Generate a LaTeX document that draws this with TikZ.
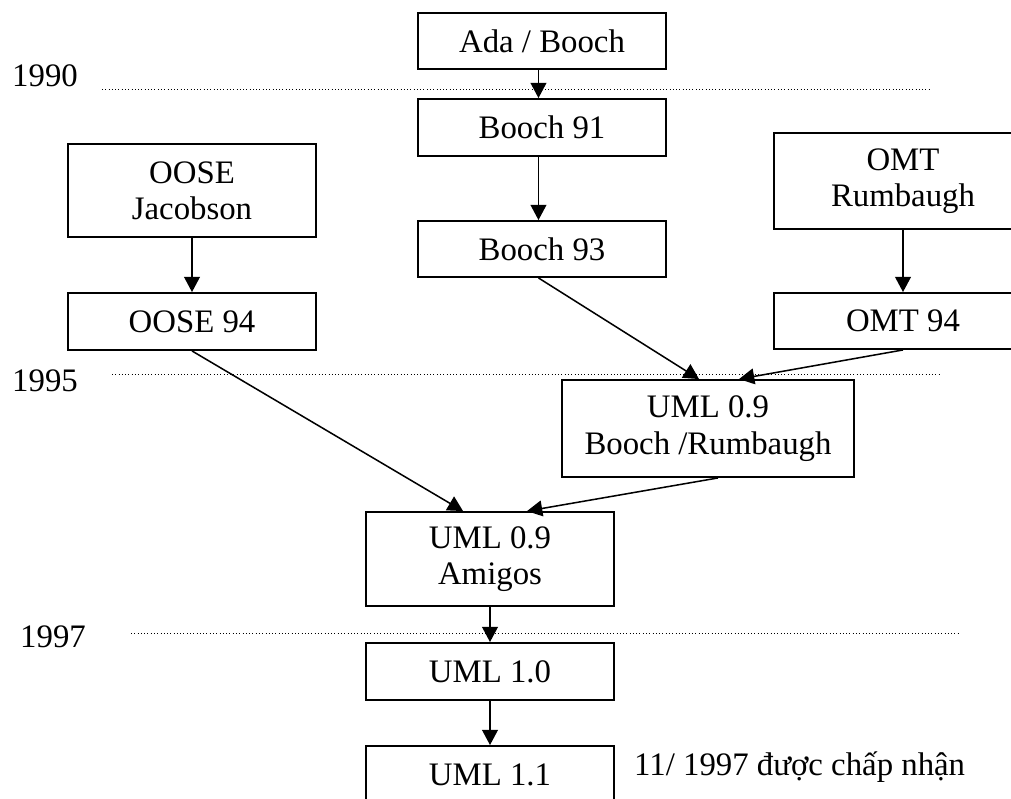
\documentclass[tikz,border=0pt]{standalone}
\usepackage{fontspec}
\setmainfont{Liberation Serif}
\usepackage{tikz}
\usetikzlibrary{positioning, arrows.meta}

\newcommand{\umlfont}{\fontsize{28}{31}\selectfont}

\tikzset{
  stagebox/.style={draw, line width=1.6pt, align=center, inner sep=0pt,
    minimum width=7.44cm, minimum height=1.71cm, font=\umlfont},
  evolve/.style={-{Triangle[length=13pt,width=13.5pt]}, line width=1.3pt},
  yearline/.style={dotted, line width=0.8pt},
  yearlabel/.style={anchor=base west, inner sep=0pt, font=\umlfont}
}

\begin{document}
\begin{tikzpicture}[x=0.03cm, y=-0.03cm]
    \useasboundingbox (0,0) rectangle (1011,798);
    \clip (0,0) rectangle (1011,798);

    % Years
    \node[yearlabel] (y1990) at (12,86) {1990};
    \node[yearlabel] (y1995) at (12,391) {1995};
    \node[yearlabel] (y1997) at (20,647) {1997};
    \draw[yearline] (102,89) -- (929,89);
    \draw[yearline] (112,374) -- (939,374);
    \draw[yearline] (131,633) -- (959,633);

    % Booch line
    \node[stagebox, minimum height=1.68cm] (ada) at (542,41) {Ada / Booch};
    \node[stagebox] (b91) at (542,127.5) {Booch 91};
    \node[stagebox, minimum height=1.68cm] (b93) at (542,249) {Booch 93};

    % Jacobson and Rumbaugh
    \node[stagebox, minimum height=2.79cm] (oose) at (192,190.5) {OOSE\\Jacobson};
    \node[stagebox] (oose94) at (192,321.5) {OOSE 94};
    \node[stagebox, minimum width=7.74cm, minimum height=2.88cm] (omt) at (903,181) {OMT\\Rumbaugh};
    \node[stagebox, minimum width=7.74cm, minimum height=1.68cm] (omt94) at (903,321) {OMT 94};

    % Unification
    \node[stagebox, minimum width=8.76cm, minimum height=2.91cm] (br) at (708,428.5) {UML 0.9\\Booch /Rumbaugh};
    \node[stagebox, minimum height=2.82cm] (amigos) at (490,559) {UML 0.9\\Amigos};
    \node[stagebox] (uml10) at (490,671.5) {UML 1.0};
    \node[stagebox] (uml11) at (490,774.5) {UML 1.1};
    \node[anchor=base west, inner sep=0pt, font=\umlfont] (note) at (634,775) {11/ 1997 được chấp nhận};

    % Arrows
    \draw[evolve] ([xshift=-3pt]ada.south) -- ([xshift=-3pt]b91.north);
    \draw[evolve] ([xshift=-3pt]b91.south) -- ([xshift=-3pt]b93.north);
    \draw[evolve] (oose.south) -- (oose94.north);
    \draw[evolve] (omt.south) -- (omt94.north);
    \draw[evolve] ([xshift=-3pt]b93.south) -- ([xshift=-7.7pt]br.north);
    \draw[evolve] (omt94.south) -- ([xshift=26.5pt]br.north);
    \draw[evolve] (oose94.south) -- ([xshift=-23pt]amigos.north);
    \draw[evolve] ([xshift=8.5pt]br.south) -- ([xshift=31.6pt]amigos.north);
    \draw[evolve] (amigos.south) -- (uml10.north);
    \draw[evolve] (uml10.south) -- (uml11.north);
\end{tikzpicture}
\end{document}
